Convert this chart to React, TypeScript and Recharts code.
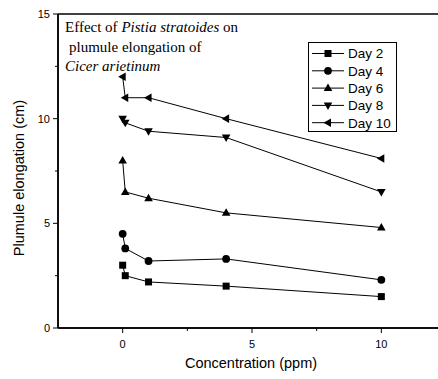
import React from 'react';
import { LineChart, Line, XAxis, YAxis, Legend, ReferenceLine } from 'recharts';

const concentrations = [0, 0.1, 1, 4, 10];
const seriesNames = ['Day 2', 'Day 4', 'Day 6', 'Day 8', 'Day 10'];
const day2 = [3.0, 2.5, 2.2, 2.0, 1.5];
const day4 = [4.5, 3.8, 3.2, 3.3, 2.3];
const day6 = [8.0, 6.5, 6.2, 5.5, 4.8];
const day8 = [10.0, 9.8, 9.4, 9.1, 6.5];
const day10 = [12.0, 11.0, 11.0, 10.0, 8.1];
const xTicks = [0, 2.5, 5, 7.5, 10];
const yTicks = [0, 2.5, 5, 7.5, 10, 12.5, 15];
const shapes = ['square', 'circle', 'up', 'down', 'left'];

const allValues = [day2, day4, day6, day8, day10];
const series = seriesNames.map((name, i) => ({
  name,
  shape: shapes[i],
  data: concentrations.map((x, j) => ({ x, y: allValues[i][j] })),
}));

const FONT = '"Liberation Sans", Arial, sans-serif';
const SERIF = '"Liberation Serif", "Times New Roman", serif';

function Marker({ shape, cx, cy }: { shape: string; cx: number; cy: number }) {
  if (cx == null || cy == null) return null;
  switch (shape) {
    case 'square':
      return <rect x={cx - 3.5} y={cy - 3.5} width={7} height={7} fill="#000" />;
    case 'circle':
      return <circle cx={cx} cy={cy} r={3.9} fill="#000" />;
    case 'up':
      return <polygon points={`${cx},${cy - 4.5} ${cx + 4.3},${cy + 3} ${cx - 4.3},${cy + 3}`} fill="#000" />;
    case 'down':
      return <polygon points={`${cx},${cy + 4.5} ${cx + 4.3},${cy - 3} ${cx - 4.3},${cy - 3}`} fill="#000" />;
    case 'left':
      return <polygon points={`${cx - 4.5},${cy} ${cx + 3},${cy - 4.3} ${cx + 3},${cy + 4.3}`} fill="#000" />;
    default:
      return null;
  }
}

function XTick(props: any) {
  const { x, y, payload } = props;
  const v = payload.value;
  const major = v % 5 === 0;
  return (
    <g>
      <line x1={x} x2={x} y1={y} y2={y + (major ? 5 : 3)} stroke="#000" strokeWidth={1} />
      {major && (
        <text x={x} y={y + 20} textAnchor="middle" fontSize={11} fontFamily={FONT} fill="#000">
          {v}
        </text>
      )}
    </g>
  );
}

function YTick(props: any) {
  const { x, y, payload } = props;
  const v = payload.value;
  const major = v % 5 === 0;
  return (
    <g>
      <line x1={x - (major ? 5 : 3)} x2={x} y1={y} y2={y} stroke="#000" strokeWidth={1} />
      {major && (
        <text x={x - 8} y={y + 4} textAnchor="end" fontSize={11} fontFamily={FONT} fill="#000">
          {v}
        </text>
      )}
    </g>
  );
}

function TopTick(props: any) {
  const { payload, x } = props;
  return <line x1={x} x2={x} y1={14} y2={17} stroke="#000" strokeWidth={1} key={payload.value} />;
}

function LegendBox() {
  const rowH = 17.3;
  return (
    <svg width={89} height={90} style={{ display: 'block' }}>
      <rect x={0.5} y={0.5} width={88} height={89} fill="#fff" stroke="#000" strokeWidth={1} />
      {series.map((s, i) => {
        const cy = 11.5 + i * rowH;
        return (
          <g key={s.name}>
            <line x1={4} x2={36} y1={cy} y2={cy} stroke="#000" strokeWidth={1} />
            <Marker shape={s.shape} cx={20} cy={cy} />
            <text x={40} y={cy + 4.8} fontSize={13.5} fontFamily={FONT} fill="#000">
              {s.name}
            </text>
          </g>
        );
      })}
    </svg>
  );
}

export default function App() {
  return (
    <div style={{ position: 'fixed', left: 0, top: 0, width: 438, height: 379, overflow: 'hidden', background: '#fff' }}>
      <LineChart width={460} height={379} margin={{ top: 14, right: 14, bottom: 21, left: 18 }}>
        <XAxis
          xAxisId="bottom"
          type="number"
          dataKey="x"
          domain={[-2.5, 12.5]}
          ticks={xTicks}
          interval={0}
          allowDataOverflow
          height={30}
          tickSize={0}
          tickMargin={0}
          tick={<XTick />}
          axisLine={{ stroke: '#000', strokeWidth: 1.5 }}
          tickLine={false}
        />
        <XAxis
          xAxisId="top"
          orientation="top"
          type="number"
          dataKey="x"
          domain={[-2.5, 12.5]}
          ticks={xTicks}
          interval={0}
          allowDataOverflow
          mirror
          height={0}
          tickSize={0}
          tick={<TopTick />}
          axisLine={false}
          tickLine={false}
        />
        <YAxis
          type="number"
          domain={[0, 15]}
          ticks={yTicks}
          interval={0}
          allowDataOverflow
          width={40}
          tickSize={0}
          tickMargin={0}
          tick={<YTick />}
          axisLine={{ stroke: '#000', strokeWidth: 1.5 }}
          tickLine={false}
        />
        <ReferenceLine xAxisId="bottom" x={-2.5} stroke="#000" strokeWidth={1.5} ifOverflow="visible" />
        <ReferenceLine xAxisId="bottom" y={0} stroke="#000" strokeWidth={1.5} ifOverflow="visible" />
        <ReferenceLine xAxisId="bottom" y={15} stroke="#000" strokeWidth={1.5} ifOverflow="visible" />
        {series.map((s) => (
          <Line
            key={s.name}
            xAxisId="bottom"
            data={s.data}
            dataKey="y"
            name={s.name}
            stroke="#000"
            strokeWidth={1}
            isAnimationActive={false}
            dot={(p: any) => <Marker key={`${s.name}-${p.index}`} shape={s.shape} cx={p.cx} cy={p.cy} />}
            activeDot={false}
          />
        ))}
        <Legend
          layout="vertical"
          align="center"
          verticalAlign="middle"
          wrapperStyle={{ position: 'absolute', left: 308, top: 42, width: 89, height: 90, margin: 0, padding: 0 }}
          content={() => <LegendBox />}
        />
      </LineChart>
      <svg width={438} height={379} style={{ position: 'absolute', left: 0, top: 0, pointerEvents: 'none' }}>
        <text x={251} y={368} textAnchor="middle" fontSize={14.5} fontFamily={FONT} fill="#000">
          Concentration (ppm)
        </text>
        <text
          x={24}
          y={178}
          textAnchor="middle"
          fontSize={14.5}
          fontFamily={FONT}
          fill="#000"
          transform="rotate(-90, 24, 178)"
        >
          Plumule elongation (cm)
        </text>
        <text x={65} y={32} fontSize={15} fontFamily={SERIF} fill="#000">
          Effect of <tspan fontStyle="italic">Pistia stratoides</tspan> on
        </text>
        <text x={69} y={51.5} fontSize={15} fontFamily={SERIF} fill="#000">
          plumule elongation of
        </text>
        <text x={65} y={71} fontSize={15} fontFamily={SERIF} fill="#000" fontStyle="italic">
          Cicer arietinum
        </text>
      </svg>
    </div>
  );
}
